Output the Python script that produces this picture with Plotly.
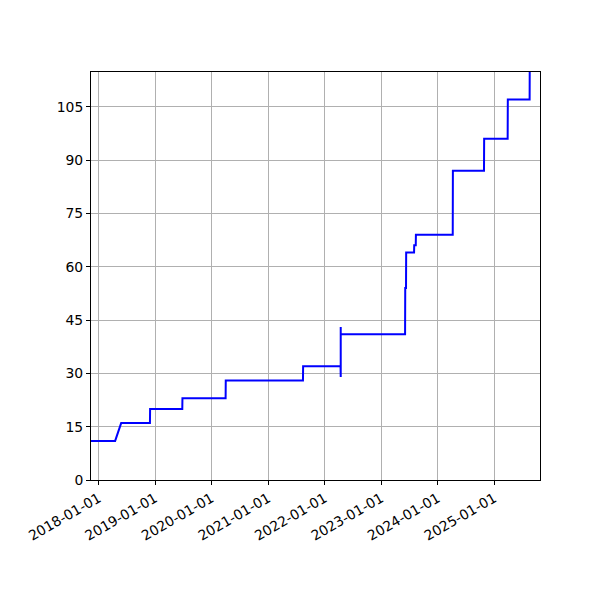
import plotly.graph_objects as go

dates = ["2017-11-13", "2018-04-18", "2018-05-27", "2018-11-29", "2018-11-30",
         "2019-06-26", "2019-06-27", "2020-04-01", "2020-04-02",
         "2021-08-14", "2021-08-15", "2022-04-14", "2022-04-15", "2022-04-15", "2022-04-15",
         "2023-06-05", "2023-06-06", "2023-06-11", "2023-06-12",
         "2023-08-02", "2023-08-03", "2023-08-13", "2023-08-14",
         "2024-04-08", "2024-04-09", "2024-10-27", "2024-10-28",
         "2025-03-29", "2025-03-30", "2025-08-18", "2025-08-19"]
values = [11, 11, 16, 16, 20,
          20, 23, 23, 28,
          28, 32, 32, 29, 43, 41,
          41, 54, 54, 64,
          64, 66, 66, 69,
          69, 87, 87, 96,
          96, 107, 107, 122]

x_ticks = ["2018-01-01", "2019-01-01", "2020-01-01", "2021-01-01",
           "2022-01-01", "2023-01-01", "2024-01-01", "2025-01-01"]
y_ticks = [0, 15, 30, 45, 60, 75, 90, 105]

fig = go.Figure()
fig.add_trace(go.Scatter(x=dates, y=values, mode="lines",
                         line=dict(color="#0000ff", width=2), showlegend=False))

font = dict(family="DejaVu Sans", size=13.9, color="black")
fig.update_layout(
    width=600, height=600,
    margin=dict(l=83, r=68, t=64, b=128, pad=0),
    plot_bgcolor="white", paper_bgcolor="white",
    font=font,
)
fig.update_xaxes(
    range=["2017-11-13", "2025-10-24"],
    tickmode="array", tickvals=x_ticks, ticktext=x_ticks,
    tickangle=-30,
    showgrid=True, gridcolor="#b0b0b0", gridwidth=1,
    showline=True, linecolor="black", linewidth=1, mirror=True,
    ticks="outside", ticklen=4, tickcolor="black",
    zeroline=False, tickfont=font,
)
fig.update_yaxes(
    range=[0, 114.75],
    tickmode="array", tickvals=y_ticks,
    showgrid=True, gridcolor="#b0b0b0", gridwidth=1,
    showline=True, linecolor="black", linewidth=1, mirror=True,
    ticks="outside", ticklen=4, tickcolor="black",
    zeroline=False, tickfont=font,
)
fig.write_html("out.html")
